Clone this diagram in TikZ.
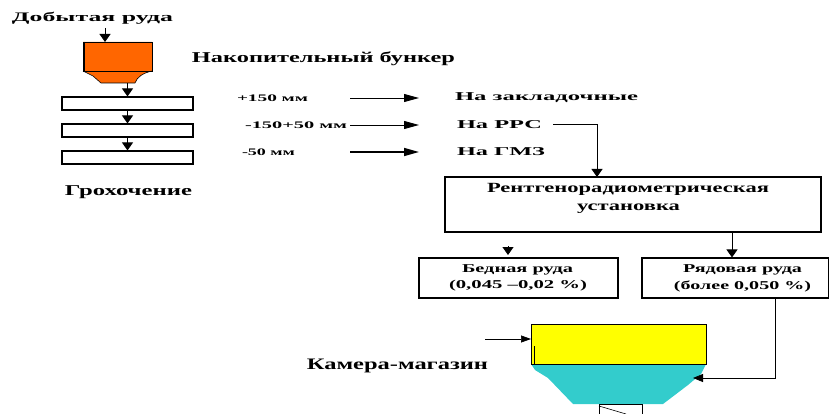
\documentclass[tikz,border=0pt]{standalone}
\usepackage{fontspec}
\setmainfont{Liberation Serif}
\usetikzlibrary{arrows.meta}
\newcommand\tw[2]{\resizebox{#1pt}{\height}{#2}}
\definecolor{bunkorange}{HTML}{FF6600}
\definecolor{camyellow}{HTML}{FFFF00}
\definecolor{camcyan}{HTML}{33CCCC}
\begin{document}
\begin{tikzpicture}[x=1pt,y=-1pt,
  lbl/.style={inner sep=0pt, font=\fontsize{#1}{#1}\selectfont\bfseries},
  box/.style={draw, line width=1.1pt, inner sep=0pt},
  arrH/.style={-{Triangle[length=15pt,width=8pt]}, line width=0.9pt},
  arrV/.style={-{Triangle[length=8pt,width=11pt]}, line width=0.9pt},
]
\useasboundingbox (0,0) rectangle (829,414);

% texts
\node[lbl=13] (ore) at (92.5,18) {\tw{161}{Добытая руда}};
\node[lbl=15] (bunk) at (323.5,59) {\tw{263}{Накопительный бункер}};
\node[lbl=10] (p150) at (272.5,98) {\tw{71}{+150 мм}};
\node[lbl=10] (m150) at (296,125) {\tw{102}{-150+50 мм}};
\node[lbl=10] (m50) at (268.5,152) {\tw{53}{-50 мм}};
\node[lbl=12] (zakl) at (546.5,98) {\tw{183}{На закладочные}};
\node[lbl=12] (rrs) at (499.5,125) {\tw{85}{На РРС}};
\node[lbl=12] (gmz) at (501,152) {\tw{88}{На ГМЗ}};
\node[lbl=15] (groh) at (128.5,192) {\tw{127}{Грохочение}};

% bunker
\fill[bunkorange] (83,42) -- (152,42) -- (152,71) .. controls (143,73) and (137,77) .. (135,83)
  -- (101,83) -- (93,76) -- (83,71) -- cycle;
\draw[line width=0.8pt] (83,42) rectangle (152,71);
\draw[line width=2pt] (84,42) -- (84,71);
\draw[line width=0.6pt] (83,71) -- (93,76) -- (101,83) -- (135,83) .. controls (137,77) and (143,73) .. (152,71);
\coordinate (oreOut) at (105,28);
\coordinate (bunkIn) at (105,42);
\coordinate (bunkOut) at (127.5,83);

% screens
\node[box, minimum width=131, minimum height=13] (s1) at (127.5,103.5) {};
\node[box, minimum width=131, minimum height=13] (s2) at (127.5,130.5) {};
\node[box, minimum width=131, minimum height=13] (s3) at (127.5,157.5) {};
\draw[arrV] (oreOut) -- (bunkIn);
\draw[arrV] (bunkOut) -- (s1.north);
\draw[arrV] (s1.south) -- (s2.north);
\draw[arrV] (s2.south) -- (s3.north);

% horizontal arrows
\coordinate (h1a) at (350,98);  \coordinate (h1b) at (419,98);
\coordinate (h2a) at (350,125); \coordinate (h2b) at (419,125);
\coordinate (h3a) at (350,152); \coordinate (h3b) at (419,152);
\draw[arrH] (h1a) -- (h1b);
\draw[arrH] (h2a) -- (h2b);
\draw[arrH, line width=1.6pt] (h3a) -- (h3b);

% X-ray unit
\node[box, minimum width=376, minimum height=55] (rtg) at (633,204.5) {};
\node[lbl=14] (rtg1) at (628,189) {\tw{282}{Рентгенорадиометрическая}};
\node[lbl=14] (rtg2) at (628.5,209) {\tw{103}{установка}};
\coordinate (rrsOut) at (553,124);
\coordinate (rtgIn) at (597,177);
\draw[arrV] (rrsOut) -| (rtgIn);

% product boxes
\node[box, minimum width=199, minimum height=40] (poor) at (518.5,278) {};
\node[box, minimum width=187, minimum height=40] (rich) at (735.5,278) {};
\node[lbl=12] (poor1) at (517.5,270) {\tw{111}{Бедная руда}};
\node[lbl=12] (poor2) at (518,286) {\tw{138}{(0,045 –0,02 \%)}};
\node[lbl=12] (rich1) at (742.5,270) {\tw{119}{Рядовая руда}};
\node[lbl=12] (rich2) at (742.5,286) {\tw{137}{(более 0,050 \%)}};
\coordinate (rtgOut) at (732,232);
\draw[arrV] (rtgOut) -- (rich.north -| rtgOut);
\coordinate (poorTipA) at (508,246);
\coordinate (poorTipB) at (508,255);
\draw[arrV] (poorTipA) -- (poorTipB);

% chamber
\fill[camcyan] (531,364) -- (706,364) -- (701,374) -- (688,385) -- (663,404) -- (573,404) -- (548,378) -- (535,370) -- cycle;
\node[draw, line width=1pt, fill=camyellow, minimum width=175, minimum height=40, inner sep=0pt] (cam) at (618.5,344) {};
\draw[line width=0.6pt] (534.5,346) -- (534.5,364);
\node[lbl=16] (camlbl) at (397.5,366) {\tw{181}{Камера-магазин}};
\coordinate (camInA) at (485,339);
\coordinate (camIn) at (531,339);
\draw[-{Triangle[length=10pt,width=7pt]}, line width=0.7pt] (camInA) -- (camIn);
\coordinate (richOut) at (775,298);
\coordinate (hopIn) at (693,378);
\draw[-{Triangle[length=10pt,width=8pt]}, line width=0.8pt] (richOut) |- (hopIn);

% outlet below chamber
\draw[line width=0.8pt] (599,414) -- (599,404) -- (642,404) -- (642,414);
\draw[line width=0.6pt] (599,406) -- (626,414);
\end{tikzpicture}
\end{document}
